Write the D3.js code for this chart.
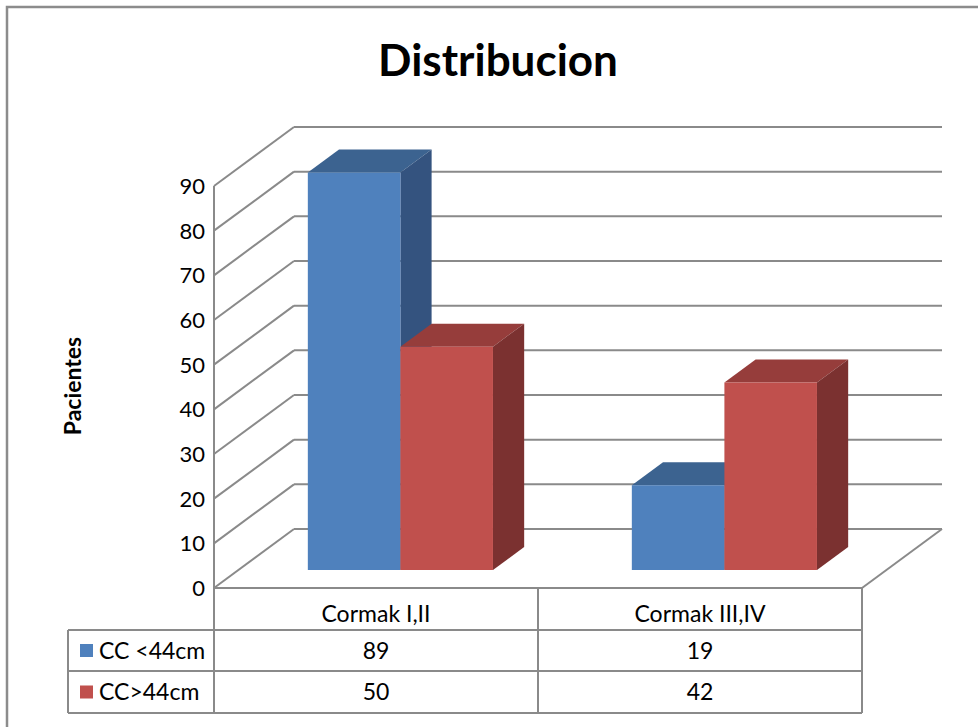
<!DOCTYPE html>
<html>
<head>
<meta charset="utf-8">
<script src="https://cdn.jsdelivr.net/npm/d3@7"></script>
<style>
  body { margin: 0; background: #fff; }
  text { font-family: Lato, "Open Sans", sans-serif; fill: #000; }
</style>
</head>
<body>
<div id="chart"></div>
<script>
// data
const categories = ["Cormak I,II", "Cormak III,IV"];
const seriesNames = ["CC <44cm", "CC>44cm"];
const ccMenor44 = [89, 19];
const ccMayor44 = [50, 42];
const yTicks = [0, 10, 20, 30, 40, 50, 60, 70, 80, 90];

const seriesValues = [ccMenor44, ccMayor44];
const colors = [
    { front: "#4F81BD", top: "#3C6390", side: "#34537F" },
    { front: "#C0504D", top: "#963D3B", side: "#7B3130" }
];

const width = 978, height = 727;
const grid = "#8a8a8a";

// plot box (front plane) + depth offset
const x0 = 214, x1 = 862, yFloor = 588;
const depthX = 80, depthY = -59;
const barD0 = 0.305, barD1 = 0.695;

const svg = d3.select("#chart").append("svg")
    .attr("width", width)
    .attr("height", height);

// outer frame
svg.append("path")
    .attr("d", `M7,${height} L7,7 L${width},7`)
    .attr("fill", "none")
    .attr("stroke", "#8c8c8c")
    .attr("stroke-width", 2.5);

svg.append("text")
    .attr("x", 498)
    .attr("y", 76)
    .attr("text-anchor", "middle")
    .style("font-size", "44px")
    .style("font-weight", "bold")
    .text("Distribucion");

let yScale = d3.scaleLinear().domain([0, 90]).range([yFloor, 186]);
let xBand = d3.scaleBand().domain(categories).range([x0, x1]);
let sBand = d3.scaleBand().domain(seriesNames)
    .range([0, xBand.bandwidth()])
    .paddingInner(0)
    .paddingOuter(0.75);

// project a front-plane point back by depth d (0..1)
function P(x, v, d) {
    return [x + d * depthX, yScale(v) + d * depthY];
}
function poly(pts) {
    return "M" + pts.map(p => p.join(",")).join("L") + "Z";
}

let walls = svg.append("g")
    .attr("fill", "none")
    .attr("stroke", grid)
    .attr("stroke-width", 2);

// back wall gridlines
walls.selectAll(".hgrid")
    .data(yTicks)
    .enter()
    .append("line")
    .attr("x1", d => P(x0, d, 1)[0])
    .attr("y1", d => P(x0, d, 1)[1])
    .attr("x2", d => P(x1, d, 1)[0])
    .attr("y2", d => P(x1, d, 1)[1]);

// side wall diagonals
walls.selectAll(".dgrid")
    .data(yTicks)
    .enter()
    .append("line")
    .attr("x1", d => P(x0, d, 0)[0])
    .attr("y1", d => P(x0, d, 0)[1])
    .attr("x2", d => P(x0, d, 1)[0])
    .attr("y2", d => P(x0, d, 1)[1]);

// front left axis and floor right edge
walls.append("line")
    .attr("x1", x0).attr("y1", yScale(0))
    .attr("x2", x0).attr("y2", yScale(90));
walls.append("line")
    .attr("x1", P(x1, 0, 0)[0]).attr("y1", P(x1, 0, 0)[1])
    .attr("x2", P(x1, 0, 1)[0]).attr("y2", P(x1, 0, 1)[1]);

// y labels
svg.append("g").selectAll("text")
    .data(yTicks)
    .enter()
    .append("text")
    .attr("x", 205)
    .attr("y", d => yScale(d))
    .attr("dy", "0.36em")
    .attr("text-anchor", "end")
    .style("font-size", "22px")
    .text(d => d);

svg.append("text")
    .attr("transform", "translate(81,386) rotate(-90)")
    .attr("text-anchor", "middle")
    .style("font-size", "23px")
    .style("font-weight", "bold")
    .text("Pacientes");

// bars, left to right
let bars = svg.append("g");
categories.forEach((c, ci) => {
    seriesNames.forEach((s, si) => {
        let v = seriesValues[si][ci];
        let xa = xBand(c) + sBand(s);
        let xb = xa + sBand.bandwidth();
        let col = colors[si];
        let g = bars.append("g");
        g.append("path")
            .attr("d", poly([P(xa, v, barD0), P(xb, v, barD0), P(xb, v, barD1), P(xa, v, barD1)]))
            .attr("fill", col.top);
        g.append("path")
            .attr("d", poly([P(xb, 0, barD0), P(xb, v, barD0), P(xb, v, barD1), P(xb, 0, barD1)]))
            .attr("fill", col.side);
        g.append("path")
            .attr("d", poly([P(xa, 0, barD0), P(xb, 0, barD0), P(xb, v, barD0), P(xa, v, barD0)]))
            .attr("fill", col.front);
    });
});

// data table
const tLeft = 68, rowH = [yFloor, 630, 671, 713];
let table = svg.append("g")
    .attr("stroke", grid)
    .attr("stroke-width", 2)
    .attr("fill", "none");

table.append("line").attr("x1", x0).attr("x2", x1).attr("y1", rowH[0]).attr("y2", rowH[0]);
[1, 2, 3].forEach(i => {
    table.append("line").attr("x1", tLeft).attr("x2", x1).attr("y1", rowH[i]).attr("y2", rowH[i]);
});
table.append("line").attr("x1", tLeft).attr("x2", tLeft).attr("y1", rowH[1]).attr("y2", rowH[3]);
[x0, x0 + xBand.bandwidth(), x1].forEach(x => {
    table.append("line").attr("x1", x).attr("x2", x).attr("y1", rowH[0]).attr("y2", rowH[3]);
});

svg.append("g").selectAll("text")
    .data(categories)
    .enter()
    .append("text")
    .attr("x", d => xBand(d) + xBand.bandwidth() / 2)
    .attr("y", (rowH[0] + rowH[1]) / 2 + 5)
    .attr("dy", "0.36em")
    .attr("text-anchor", "middle")
    .style("font-size", "23px")
    .text(d => d);

seriesNames.forEach((s, si) => {
    let yc = (rowH[si + 1] + rowH[si + 2]) / 2;
    svg.append("rect")
        .attr("x", 80)
        .attr("y", yc - 6.5)
        .attr("width", 13)
        .attr("height", 13)
        .attr("fill", colors[si].front);
    svg.append("text")
        .attr("x", 99)
        .attr("y", yc)
        .attr("dy", "0.36em")
        .style("font-size", "23px")
        .text(s);
    categories.forEach((c, ci) => {
        svg.append("text")
            .attr("x", xBand(c) + xBand.bandwidth() / 2)
            .attr("y", yc)
            .attr("dy", "0.36em")
            .attr("text-anchor", "middle")
            .style("font-size", "23px")
            .text(seriesValues[si][ci]);
    });
});
</script>
</body>
</html>
